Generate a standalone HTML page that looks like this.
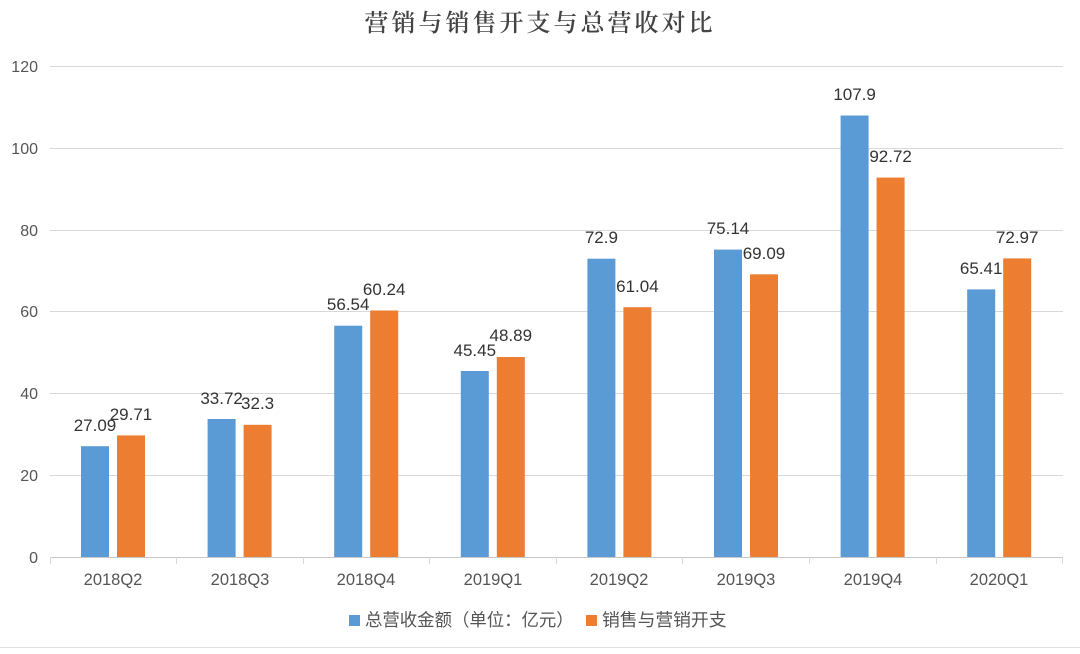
<!DOCTYPE html>
<html><head><meta charset="utf-8"><style>body{margin:0;background:#fff}</style></head><body>
<svg width="1080" height="649" xmlns="http://www.w3.org/2000/svg" font-family="Liberation Sans, Noto Sans CJK SC, sans-serif">
<rect width="1080" height="649" fill="#fff"/>
<text x="540" y="31" text-anchor="middle" font-family="Noto Serif CJK SC, serif" font-size="24" font-weight="600" fill="#444" letter-spacing="3">营销与销售开支与总营收对比</text>
<g stroke="#d9d9d9" stroke-width="1">
<line x1="50" x2="1063" y1="66.5" y2="66.5"/><line x1="50" x2="1063" y1="148.5" y2="148.5"/>
<line x1="50" x2="1063" y1="230.5" y2="230.5"/><line x1="50" x2="1063" y1="311.5" y2="311.5"/>
<line x1="50" x2="1063" y1="393.5" y2="393.5"/><line x1="50" x2="1063" y1="475.5" y2="475.5"/>
<line x1="50" x2="1063" y1="557.5" y2="557.5" stroke="#c8c8c8"/>
<line x1="50.5" x2="50.5" y1="557" y2="564"/><line x1="176.5" x2="176.5" y1="557" y2="564"/><line x1="303.5" x2="303.5" y1="557" y2="564"/><line x1="429.5" x2="429.5" y1="557" y2="564"/><line x1="556.5" x2="556.5" y1="557" y2="564"/><line x1="682.5" x2="682.5" y1="557" y2="564"/><line x1="809.5" x2="809.5" y1="557" y2="564"/><line x1="936.5" x2="936.5" y1="557" y2="564"/><line x1="1062.5" x2="1062.5" y1="557" y2="564"/>
<line x1="0" x2="1080" y1="647.5" y2="647.5" stroke="#e0e0e0"/>
</g>
<g font-size="16" fill="#555" text-anchor="end">
<text x="38" y="72">120</text><text x="38" y="154">100</text><text x="38" y="236">80</text><text x="38" y="317">60</text><text x="38" y="399">40</text><text x="38" y="481">20</text><text x="38" y="563">0</text>
</g>
<g fill="#5b9bd5">
<rect x="81" y="446.2" width="28" height="110.8"/><rect x="207.6" y="419" width="28" height="138"/><rect x="334.2" y="325.7" width="28" height="231.3"/><rect x="460.8" y="371" width="28" height="186"/><rect x="587.4" y="258.7" width="28" height="298.3"/><rect x="714" y="249.6" width="28" height="307.4"/><rect x="840.6" y="115.5" width="28" height="441.5"/><rect x="967.2" y="289.4" width="28" height="267.6"/>
</g>
<g fill="#ed7d31">
<rect x="117" y="435.4" width="28" height="121.6"/><rect x="243.6" y="424.8" width="28" height="132.2"/><rect x="370.2" y="310.5" width="28" height="246.5"/><rect x="496.8" y="357" width="28" height="200"/><rect x="623.4" y="307.2" width="28" height="249.8"/><rect x="750" y="274.3" width="28" height="282.7"/><rect x="876.6" y="177.6" width="28" height="379.4"/><rect x="1003.2" y="258.4" width="28" height="298.6"/>
</g>
<g font-size="17" fill="#333" text-anchor="middle">
<text x="95" y="431">27.09</text><text x="221.6" y="404">33.72</text><text x="348.2" y="310">56.54</text><text x="474.8" y="356">45.45</text><text x="601.4" y="243">72.9</text><text x="728" y="234">75.14</text><text x="854.6" y="100">107.9</text><text x="981.2" y="274">65.41</text>
<text x="131" y="420">29.71</text><text x="257.6" y="409">32.3</text><text x="384.2" y="295">60.24</text><text x="510.8" y="341">48.89</text><text x="637.4" y="292">61.04</text><text x="764" y="259">69.09</text><text x="890.6" y="162">92.72</text><text x="1017.2" y="243">72.97</text>
</g>
<g font-size="16.5" fill="#555" text-anchor="middle">
<text x="113" y="585">2018Q2</text><text x="240" y="585">2018Q3</text><text x="366" y="585">2018Q4</text><text x="493" y="585">2019Q1</text><text x="619" y="585">2019Q2</text><text x="746" y="585">2019Q3</text><text x="873" y="585">2019Q4</text><text x="999" y="585">2020Q1</text>
</g>
<rect x="349" y="615" width="11" height="11" fill="#5b9bd5"/>
<text x="365" y="626" font-size="17.4" fill="#555">总营收金额（单位：亿元）</text>
<rect x="586" y="615" width="11" height="11" fill="#ed7d31"/>
<text x="602" y="626" font-size="17.8" fill="#555">销售与营销开支</text>
</svg>
</body></html>
